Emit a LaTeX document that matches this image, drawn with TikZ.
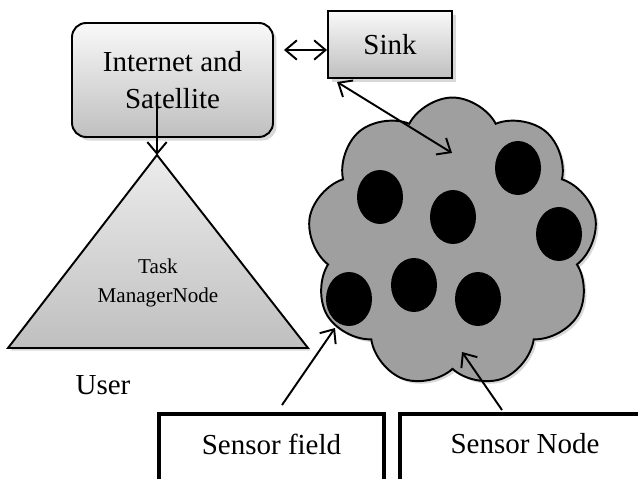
\documentclass[tikz,border=0pt]{standalone}
\usepackage{fontspec}
\setmainfont{Liberation Serif}
\usetikzlibrary{arrows.meta,shapes.geometric,shapes.symbols,shadows}

\begin{document}
\begin{tikzpicture}[x=0.02cm, y=-0.02cm,
  font=\fontsize{16.5}{21}\selectfont,
  tip/.style={-{Straight Barb[length=6.5pt,width=11pt]}, line width=1.1pt},
  dbl/.style={{Straight Barb[length=6.5pt,width=11pt]}-{Straight Barb[length=6.5pt,width=11pt]}, line width=1.1pt},
  shadebox/.style={draw, line width=1.1pt, top color=gray!5, bottom color=gray!50, drop shadow={shadow xshift=2pt, shadow yshift=-2pt, fill=gray!60}},
  sensorbox/.style={rectangle, draw, line width=2.4pt, minimum height=1.44cm, anchor=north, text depth=0.25cm},
  mote/.style={ellipse, fill=black, minimum width=0.92cm, minimum height=1.08cm, inner sep=0pt}
]
\useasboundingbox (0,0) rectangle (638,479);

% top row
\node[shadebox, rounded corners=8pt, minimum width=4.02cm, minimum height=2.28cm, align=center] (inet) at (172.5,80) {Internet and\\Satellite};
\node[shadebox, rectangle, minimum width=2.48cm, minimum height=1.34cm] (sink) at (390,44.5) {Sink};
\draw[dbl] ([xshift=0.2cm,yshift=-0.11cm]inet.east |- sink.west) -- ([yshift=-0.11cm]sink.west);

% user side
\coordinate (apex) at (157,155);
\path[draw, line width=1.1pt, top color=gray!15, bottom color=gray!50, drop shadow={shadow xshift=1.5pt, shadow yshift=-1.5pt, fill=gray!60}]
  (apex) -- (8,348) -- (308,348) -- cycle;
\node[font=\fontsize{12}{16}\selectfont, align=center] (task) at (158,283) {Task\\ManagerNode};
\node (user) at (103,385) {User};
\draw[tip] ([xshift=-0.31cm,yshift=0.68cm]inet.south) -- (apex);

% sensor field
\node[cloud, cloud puffs=9, cloud puff arc=125, aspect=1, draw, line width=1.1pt, fill=gray!75,
  minimum width=5.8cm, minimum height=5.8cm,
  drop shadow={shadow xshift=1.5pt, shadow yshift=-1.5pt, fill=gray!60}] (field) at (452.5,242.5) {};
\foreach \n/\p in {1/{(380,197)}, 2/{(453,217)}, 3/{(518,168)}, 4/{(559,234)}, 5/{(349,299)}, 6/{(414,285)}, 7/{(478,299)}}
  \node[mote] (s\n) at \p {};
\coordinate (sinkend) at (452,153);
\coordinate (fieldend) at (335,328);
\coordinate (nodeend) at (462,352);
\draw[dbl] ([xshift=0.2cm,yshift=-0.06cm]sink.south west) -- (sinkend);

% labels below
\node[sensorbox, minimum width=4.5cm] (sfield) at (271.5,412) {Sensor field};
\node[sensorbox, minimum width=5.0cm] (snode) at (525,412) {Sensor Node};
\draw[tip] ([xshift=0.21cm,yshift=0.14cm]sfield.north) -- (fieldend);
\draw[tip] ([xshift=-0.46cm,yshift=0.04cm]snode.north) -- (nodeend);
\end{tikzpicture}
\end{document}
